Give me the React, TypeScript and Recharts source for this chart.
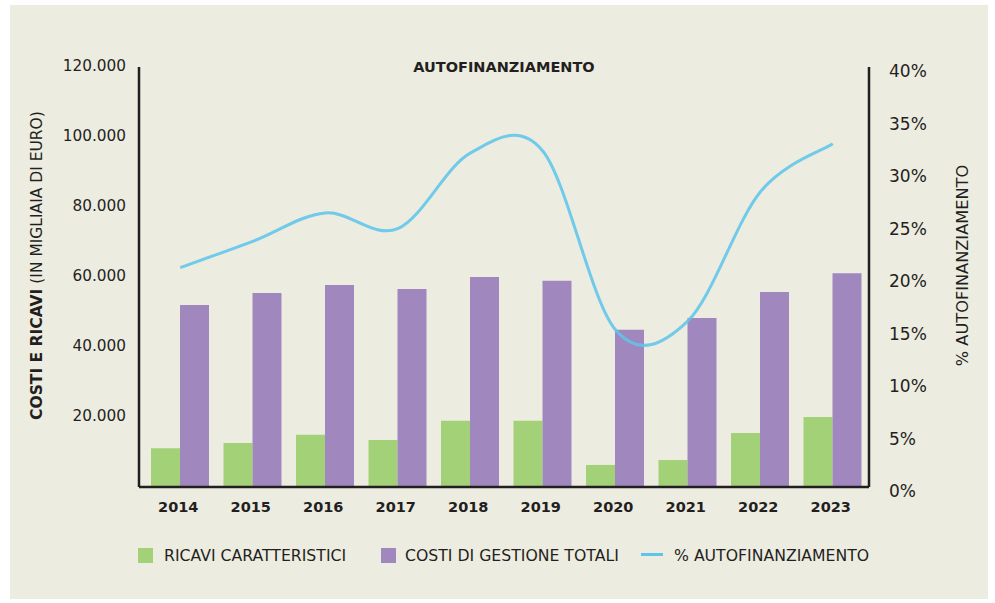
import React from 'react';
import { ComposedChart, Bar, Line, XAxis, YAxis } from 'recharts';

const years = ['2014', '2015', '2016', '2017', '2018', '2019', '2020', '2021', '2022', '2023'];
const ricaviCaratteristici = [11100, 12600, 14900, 13400, 18900, 18900, 6300, 7700, 15400, 20000];
const costiGestione = [52000, 55400, 57700, 56600, 60000, 58900, 44900, 48300, 55700, 61100];
const autofinanziamento = [20.9, 23.4, 26.1, 24.6, 31.8, 32.0, 15.0, 15.8, 28.1, 32.7];
const leftTicks = [0, 20000, 40000, 60000, 80000, 100000, 120000];
const rightTicks = [0, 5, 10, 15, 20, 25, 30, 35, 40];

const data = years.map((year, i) => ({
  year,
  ricavi: ricaviCaratteristici[i],
  costi: costiGestione[i],
  perc: autofinanziamento[i],
}));

const GREEN = '#A3D177';
const PURPLE = '#A087BD';
const BLUE = '#5EC5EA';
const INK = '#231F20';
const BG = '#EDECE1';
const FONT = '"DejaVu Sans", "Liberation Sans", sans-serif';

// Catmull-Rom style smoothing (like a spreadsheet "smoothed line")
const smoothCurve: any = (context: any) => {
  let pts: number[][] = [];
  return {
    areaStart() {},
    areaEnd() {},
    lineStart() {
      pts = [];
    },
    lineEnd() {
      const n = pts.length;
      if (!n) return;
      context.moveTo(pts[0][0], pts[0][1]);
      for (let i = 0; i < n - 1; i++) {
        const p0 = pts[i === 0 ? 0 : i - 1];
        const p1 = pts[i];
        const p2 = pts[i + 1];
        const p3 = pts[i + 2 < n ? i + 2 : n - 1];
        context.bezierCurveTo(
          p1[0] + (p2[0] - p0[0]) / 6,
          p1[1] + (p2[1] - p0[1]) / 6,
          p2[0] - (p3[0] - p1[0]) / 6,
          p2[1] - (p3[1] - p1[1]) / 6,
          p2[0],
          p2[1]
        );
      }
    },
    point(x: number, y: number) {
      pts.push([+x, +y]);
    },
  };
};

const XTick = (props: any) => {
  const { x, y, payload } = props;
  return (
    <text x={x - 2} y={y + 25} textAnchor="middle" fontFamily={FONT} fontWeight={700} fontSize={14.5} fill={INK}>
      {payload.value}
    </text>
  );
};

const LeftTick = (props: any) => {
  const { x, y, payload } = props;
  if (payload.value === 0) return <g />;
  const s = String(payload.value).replace(/\B(?=(\d{3})+(?!\d))/g, '.');
  return (
    <text x={x - 13} y={y + 3.5} textAnchor="end" fontFamily={FONT} fontSize={15.3} fill={INK}>
      {s}
    </text>
  );
};

const RightTick = (props: any) => {
  const { x, y, payload } = props;
  return (
    <text x={x + 20} y={y + 10} textAnchor="start" fontFamily={FONT} fontSize={17} fill={INK}>
      {payload.value + '%'}
    </text>
  );
};

const legendText: React.CSSProperties = {
  position: 'absolute',
  top: 547,
  fontFamily: FONT,
  fontSize: 15.7,
  lineHeight: '18px',
  color: INK,
  whiteSpace: 'nowrap',
};

export default function App() {
  return (
    <div style={{ position: 'absolute', left: 0, top: 0, width: 995, height: 603, background: '#ffffff', overflow: 'hidden' }}>
      <div style={{ position: 'absolute', left: 10, top: 5, width: 978, height: 594, background: BG }} />
      <div style={{ position: 'absolute', left: 0, top: 0 }}>
        <ComposedChart
          width={995}
          height={603}
          data={data}
          margin={{ top: 67, right: 0, bottom: 86, left: 0 }}
          barCategoryGap={7}
          barGap={0}
        >
          <XAxis
            dataKey="year"
            padding={{ left: 5, right: 0 }}
            height={30}
            tickLine={false}
            tickSize={0}
            tickMargin={0}
            axisLine={{ stroke: INK, strokeWidth: 2.5 }}
            tick={<XTick />}
            interval={0}
          />
          <YAxis
            yAxisId="l"
            orientation="left"
            width={139}
            domain={[0, 120000]}
            ticks={leftTicks}
            tickLine={false}
            tickSize={0}
            tickMargin={0}
            axisLine={{ stroke: INK, strokeWidth: 2.5 }}
            tick={<LeftTick />}
            allowDataOverflow
          />
          <YAxis
            yAxisId="r"
            orientation="right"
            width={126}
            domain={[0, 40]}
            ticks={rightTicks}
            tickLine={false}
            tickSize={0}
            tickMargin={0}
            axisLine={{ stroke: INK, strokeWidth: 2.5 }}
            tick={<RightTick />}
            allowDataOverflow
          />
          <Bar yAxisId="l" dataKey="ricavi" name="RICAVI CARATTERISTICI" fill={GREEN} isAnimationActive={false} />
          <Bar yAxisId="l" dataKey="costi" name="COSTI DI GESTIONE TOTALI" fill={PURPLE} isAnimationActive={false} />
          <Line
            yAxisId="r"
            dataKey="perc"
            name="% AUTOFINANZIAMENTO"
            type={smoothCurve}
            stroke={BLUE}
            strokeOpacity={0.88}
            strokeWidth={3}
            dot={false}
            activeDot={false}
            isAnimationActive={false}
          />
        </ComposedChart>
      </div>
      <svg width={995} height={603} style={{ position: 'absolute', left: 0, top: 0, pointerEvents: 'none' }}>
        <text x={504} y={72} textAnchor="middle" fontFamily={FONT} fontWeight={700} fontSize={14.5} fill={INK}>
          AUTOFINANZIAMENTO
        </text>
        <text
          x={42}
          y={265.5}
          transform="rotate(-90 42 265.5)"
          textAnchor="middle"
          fontFamily={FONT}
          fontSize={15.5}
          fill={INK}
        >
          <tspan fontWeight={700}>COSTI E RICAVI</tspan>
          <tspan> (IN MIGLIAIA DI EURO)</tspan>
        </text>
        <text
          x={968}
          y={265.5}
          transform="rotate(-90 968 265.5)"
          textAnchor="middle"
          fontFamily={FONT}
          fontSize={16.2}
          fill={INK}
        >
          % AUTOFINANZIAMENTO
        </text>
      </svg>
      <div style={{ position: 'absolute', left: 138, top: 548, width: 15, height: 15, background: GREEN }} />
      <div style={{ ...legendText, left: 164 }}>RICAVI CARATTERISTICI</div>
      <div style={{ position: 'absolute', left: 381, top: 548, width: 15, height: 15, background: PURPLE }} />
      <div style={{ ...legendText, left: 405 }}>COSTI DI GESTIONE TOTALI</div>
      <div style={{ position: 'absolute', left: 641, top: 553, width: 22, height: 3, background: BLUE }} />
      <div style={{ ...legendText, left: 674 }}>% AUTOFINANZIAMENTO</div>
    </div>
  );
}
